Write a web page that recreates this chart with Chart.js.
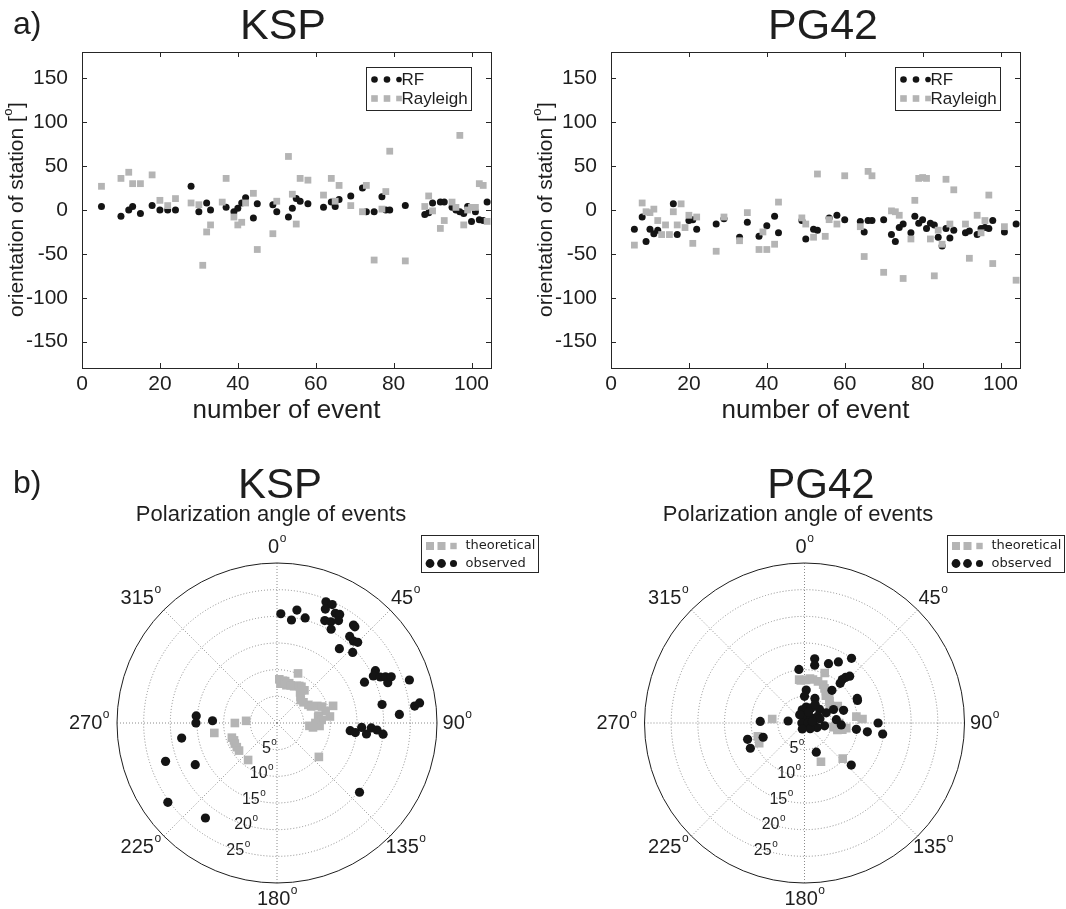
<!DOCTYPE html>
<html>
<head>
<meta charset="utf-8">
<script src="https://cdn.jsdelivr.net/npm/chart.js@4.4.1/dist/chart.umd.min.js"></script>
<style>
  body { margin: 0; background: #fff; }
  #wrap { position: relative; width: 1066px; height: 909px; overflow: hidden; }
  #wrap canvas { position: absolute; }
</style>
</head>
<body>
<div id="wrap">
  <canvas id="kspEvents" width="533" height="440" style="left:0;top:0"></canvas>
  <canvas id="pgEvents" width="533" height="440" style="left:533px;top:0"></canvas>
  <canvas id="kspPolar" width="545" height="469" style="left:0;top:440px"></canvas>
  <canvas id="pgPolar" width="533" height="469" style="left:533px;top:440px"></canvas>
</div>
<script>
const FONT = "'Liberation Sans', Arial, sans-serif";
const LEGEND_FONT = "'DejaVu Sans', sans-serif";
const BLACK = "#141414";
const GREY = "#b4b4b4";
const TEXT = "#1e1e1e";

// a) station orientation per event
const kspRfEvent = [5,10,12,13,15,18,20,22,24,28,30,32,33,37,39,40,41,42,44,45,49,50,53,54,55,56,58,62,64,65,66,69,72,73,75,77,78,79,83,88,89,90,92,93,95,96,97,98,99,100,101,102,103,104];
const kspRf = [4,-7,0,4,-4,5,0,0,0,27,-2,8,0,3,-2,2,8,14,-9,7,6,-2,-8,2,13,10,7,3,9,4,12,16,25,-2,-2,15,0,0,5,-5,-3,8,9,9,3,0,-2,-4,4,-13,-2,-11,-12,9];
const kspRayEvent = [5,10,12,13,15,18,20,22,24,28,30,31,32,33,36,37,39,40,41,42,44,45,49,50,53,54,55,56,58,62,64,65,66,69,72,73,75,77,78,79,83,88,89,90,92,93,95,96,97,98,99,100,101,102,103,104];
const kspRayleigh = [27,36,43,30,30,40,11,5,13,8,6,-63,-25,-17,9,36,-8,-17,-14,8,19,-45,-27,10,61,18,-16,36,34,17,36,10,28,5,-2,28,-57,1,21,67,-58,4,16,-1,-21,-12,9,3,85,-17,0,3,3,30,28,-13];

const pgRfEvent = [6,8,9,10,11,12,16,17,20,21,22,27,29,33,35,38,40,42,43,49,50,52,53,56,58,60,64,65,66,67,70,72,73,74,75,77,78,79,80,81,82,83,84,85,86,87,88,91,92,94,95,96,97,98,101,104];
const pgRf = [-22,-8,-36,-22,-27,-23,7,-28,-12,-11,-22,-16,-10,-31,-14,-30,-18,-7,-26,-12,-33,-22,-23,-9,-6,-11,-13,-25,-12,-12,-11,-28,-36,-20,-16,-26,-7,-15,-11,-21,-15,-17,-31,-41,-21,-32,-23,-26,-24,-28,-21,-20,-21,-12,-25,-16];
const pgRayEvent = [6,8,9,10,11,12,13,14,15,16,17,18,19,20,21,22,27,29,33,35,38,39,40,42,43,49,50,52,53,55,56,58,60,64,65,66,67,70,72,73,74,75,77,78,79,80,81,82,83,84,85,86,87,88,91,92,94,95,96,97,98,101,104];
const pgRayleigh = [-40,8,-2,-3,1,-12,-28,-17,-28,-2,-17,7,-20,-6,-38,-8,-47,-8,-35,-3,-45,-25,-45,-39,9,-9,-16,-31,41,-30,-11,-16,39,-19,-53,44,39,-71,-1,-2,-6,-78,-33,11,36,37,36,-33,-75,-23,-39,35,-16,23,-16,-55,-6,-26,-12,17,-61,-19,-80];

const xTicks = [0, 20, 40, 60, 80, 100];
const yTicks = [-150, -100, -50, 0, 50, 100, 150];

// b) polarization: azimuth (deg, clockwise from north) and radius (deg)
const kspTheoAz = [3,5,8,11,14,17,20,23,25,28,31,34,37,40,42,46,52,60,64,67,70,73,76,80,82,83,86,90,94,95,97,129,270,274,261,252,248,244,239,234,218];
const kspTheoInc = [8.2,7.4,8.0,8.0,7.3,7.8,7.5,10.1,7.6,7.9,8.1,8.2,7.2,8.0,6.6,6.2,6.3,6.8,7.1,8.2,9.0,11.0,9.4,7.9,7.8,10.0,8.4,7.2,8.0,6.1,6.8,10.1,7.9,5.8,11.9,8.9,8.7,8.8,8.8,8.8,8.8];
const kspObsAz = [2,10,8,15,22,25,23,28,30,25,28,31,30,38,39,40,43,45,40,47,65,62,64,66,67,70,68,72,80,86,83,82,96,97,93,97,93,94,96,130,275,270,272,261,251,243,234,217];
const kspObsInc = [20.5,21.5,19.5,20.4,24.5,24.5,23.2,23.3,23.5,21.2,21.5,22.4,20.3,23.3,23.2,21.2,21.0,21.4,18.2,19.4,18.1,20.9,20.1,21.2,22.1,22.1,23.1,26.1,20.0,23.0,26.0,27.0,13.8,14.8,15.9,16.9,17.7,18.8,20.0,20.2,15.2,15.2,12.1,18.1,22.1,17.2,25.3,22.3];

const pgTheoAz = [22,353,355,2,7,11,18,26,30,34,38,43,49,55,63,83,86,90,96,97,98,100,102,277,254,246,157,133];
const pgTheoInc = [10.1,8.2,8.0,8.1,8.4,8.3,8.2,8.0,7.5,7.2,6.5,6.8,6.2,5.8,7.0,9.8,10.9,6.5,5.9,7.9,5.5,7.2,6.3,6.1,9.1,9.3,7.9,9.8];
const pgObsAz = [9,10,22,29,36,354,41,42,44,42,40,3,0,23,65,67,6,24,0,48,65,65,72,0,53,63,270,90,100,98,84,93,97,98,90,98,277,272,254,251,245,158,132,350,20,30,75,110,135,200,330,80];
const pgObsInc = [12.2,11.0,12.0,13.1,15.0,10.1,10.8,11.5,12.2,10.0,8.0,6.2,5.0,5.0,10.9,10.8,3.0,3.1,1.9,3.8,4.5,6.0,7.7,1.0,1.6,2.8,0.5,0.6,1.8,3.8,6.0,6.9,9.8,11.9,13.8,14.8,3.1,8.3,11.1,8.2,11.2,5.9,11.8,2.5,2.2,4.0,3.0,2.5,1.5,1.2,1.8,1.5];

const ringTicks = [5, 10, 15, 20, 25];
const ringMax = 30;
const spokeAngles = [0, 45, 90, 135, 180, 225, 270, 315];

const toPoints = (xs, ys) => xs.map((x, i) => ({ x: x, y: ys[i] }));
const toPolar = (az, inc) => az.map((a, i) => {
  const t = a * Math.PI / 180;
  return { x: inc[i] * Math.sin(t), y: inc[i] * Math.cos(t) };
});

// text with a raised small "o" (degree mark), centred on x
function degText(ctx, base, tail, x, y, size) {
  const sup = Math.round(size * 0.62);
  ctx.font = size + "px " + FONT;
  const wb = ctx.measureText(base).width;
  const wt = tail ? ctx.measureText(tail).width : 0;
  ctx.font = sup + "px " + FONT;
  const ws = ctx.measureText("o").width;
  const left = x - (wb + ws + wt) / 2;
  ctx.textAlign = "left";
  ctx.textBaseline = "middle";
  ctx.font = size + "px " + FONT;
  ctx.fillText(base, left, y);
  ctx.font = sup + "px " + FONT;
  ctx.fillText("o", left + wb + 0.5, y - size * 0.42);
  if (tail) {
    ctx.font = size + "px " + FONT;
    ctx.fillText(tail, left + wb + ws + 1, y);
  }
}

function marker(ctx, style, x, y, s) {
  if (style === "rect") {
    ctx.fillStyle = GREY;
    ctx.fillRect(x - s, y - s, 2 * s, 2 * s);
  } else {
    ctx.fillStyle = BLACK;
    ctx.beginPath();
    ctx.arc(x, y, s, 0, 2 * Math.PI);
    ctx.fill();
  }
}

const eventFrame = {
  id: "eventFrame",
  afterDraw(chart, args, o) {
    const { ctx, chartArea: a, scales: { x, y } } = chart;
    ctx.save();
    ctx.strokeStyle = "#262626";
    ctx.lineWidth = 1;
    ctx.strokeRect(Math.round(a.left) + 0.5, Math.round(a.top) + 0.5, Math.round(a.width), Math.round(a.height));

    // inward ticks on all four sides
    ctx.beginPath();
    xTicks.forEach(v => {
      const px = Math.round(x.getPixelForValue(v)) + 0.5;
      ctx.moveTo(px, a.bottom); ctx.lineTo(px, a.bottom - 5);
      ctx.moveTo(px, a.top); ctx.lineTo(px, a.top + 5);
    });
    yTicks.forEach(v => {
      const py = Math.round(y.getPixelForValue(v)) + 0.5;
      ctx.moveTo(a.left, py); ctx.lineTo(a.left + 5, py);
      ctx.moveTo(a.right, py); ctx.lineTo(a.right - 5, py);
    });
    ctx.stroke();

    ctx.fillStyle = TEXT;
    ctx.textAlign = "center";
    ctx.textBaseline = "middle";
    ctx.font = "43px " + FONT;
    ctx.fillText(o.title, o.titleX, 27);
    if (o.panel) {
      ctx.textAlign = "left";
      ctx.font = "32px " + FONT;
      ctx.fillText(o.panel, 13, 25);
    }
    ctx.textAlign = "center";
    ctx.font = "26px " + FONT;
    ctx.fillText("number of event", (a.left + a.right) / 2, 411);

    ctx.save();
    ctx.translate(a.left - 65, (a.top + a.bottom) / 2);
    ctx.rotate(-Math.PI / 2);
    ctx.fillStyle = TEXT;
    degText(ctx, "orientation of station [", "]", 0, 0, 21);
    ctx.restore();

    // legend box
    const bw = 105, bh = 43;
    const bx = Math.round(a.right - 20 - bw) + 0.5, by = 67.5;
    ctx.fillStyle = "#fff";
    ctx.fillRect(bx, by, bw, bh);
    ctx.strokeStyle = "#262626";
    ctx.strokeRect(bx, by, bw, bh);
    const rows = [["circle", "RF", 3.3], ["rect", "Rayleigh", 3.3]];
    rows.forEach((r, i) => {
      const ry = by + 12 + i * 19;
      [8, 20.5, 32.5].forEach((dx, k) => marker(ctx, r[0], bx + dx, ry, k === 2 ? r[2] * 0.85 : r[2]));
      ctx.fillStyle = TEXT;
      ctx.textAlign = "left";
      ctx.font = "17px " + FONT;
      ctx.fillText(r[1], bx + 35, ry + 1);
    });
    ctx.restore();
  }
};

function eventChart(id, rfX, rfY, rayX, rayY, axisWidth, padRight, frame) {
  new Chart(document.getElementById(id), {
    type: "scatter",
    data: {
      datasets: [
        { label: "RF", data: toPoints(rfX, rfY), pointStyle: "circle", pointRadius: 3.5,
          backgroundColor: BLACK, borderWidth: 0, order: 1 },
        { label: "Rayleigh", data: toPoints(rayX, rayY), pointStyle: "rect", pointRadius: 4.8,
          backgroundColor: GREY, borderWidth: 0, order: 0 }
      ]
    },
    options: {
      responsive: false,
      animation: false,
      devicePixelRatio: 1,
      layout: { padding: { left: 0, top: 52, right: padRight, bottom: 0 } },
      plugins: { legend: { display: false }, tooltip: { enabled: false }, eventFrame: frame },
      scales: {
        x: {
          type: "linear", min: 0, max: 105,
          grid: { display: false }, border: { display: false },
          afterBuildTicks: s => { s.ticks = xTicks.map(v => ({ value: v })); },
          afterFit: s => { s.height = 72; },
          ticks: { font: { family: FONT, size: 21 }, color: TEXT, padding: -4, maxRotation: 0 }
        },
        y: {
          type: "linear", min: -180, max: 180,
          grid: { display: false }, border: { display: false },
          afterBuildTicks: s => { s.ticks = yTicks.map(v => ({ value: v })); },
          afterFit: s => { s.width = axisWidth; },
          ticks: { font: { family: FONT, size: 21 }, color: TEXT, padding: 6 }
        }
      }
    },
    plugins: [eventFrame]
  });
}

const polarGrid = {
  id: "polarGrid",
  beforeDatasetsDraw(chart) {
    const { ctx, scales: { x, y } } = chart;
    const cx = x.getPixelForValue(0), cy = y.getPixelForValue(0);
    const unit = x.getPixelForValue(1) - cx;
    ctx.save();
    ctx.strokeStyle = "#8a8a8a";
    ctx.lineWidth = 1;
    ctx.setLineDash([1, 2]);
    ringTicks.forEach(r => {
      ctx.beginPath();
      ctx.arc(cx, cy, r * unit, 0, 2 * Math.PI);
      ctx.stroke();
    });
    spokeAngles.forEach(d => {
      const t = d * Math.PI / 180;
      ctx.beginPath();
      ctx.moveTo(cx, cy);
      ctx.lineTo(cx + ringMax * unit * Math.sin(t), cy - ringMax * unit * Math.cos(t));
      ctx.stroke();
    });
    ctx.setLineDash([]);
    ctx.strokeStyle = "#1e1e1e";
    ctx.beginPath();
    ctx.arc(cx, cy, ringMax * unit, 0, 2 * Math.PI);
    ctx.stroke();
    ctx.restore();
  },
  afterDraw(chart, args, o) {
    const { ctx, scales: { x, y } } = chart;
    const cx = x.getPixelForValue(0), cy = y.getPixelForValue(0);
    const unit = x.getPixelForValue(1) - cx;
    const R = ringMax * unit;
    ctx.save();
    ctx.fillStyle = TEXT;

    spokeAngles.forEach(d => {
      const t = d * Math.PI / 180;
      const s = Math.sin(t);
      const shift = s < -0.1 ? -12 : (s > 0.1 ? 4 : 0);
      degText(ctx, String(d), "", cx + 1.1 * R * s + shift, cy - 1.1 * R * Math.cos(t), 20);
    });
    const lt = 197 * Math.PI / 180;
    ringTicks.forEach(r => {
      degText(ctx, String(r), "", cx + r * unit * Math.sin(lt), cy - r * unit * Math.cos(lt), 16);
    });

    ctx.textAlign = "center";
    ctx.textBaseline = "middle";
    ctx.font = "42px " + FONT;
    ctx.fillText(o.title, o.titleX, 46);
    ctx.font = "22px " + FONT;
    ctx.fillText("Polarization angle of events", o.subX, 75);
    if (o.panel) {
      ctx.textAlign = "left";
      ctx.font = "32px " + FONT;
      ctx.fillText(o.panel, 13, 44);
    }

    // legend box
    const bx = o.legendX + 0.5, by = 95.5, bw = 117, bh = 37;
    ctx.fillStyle = "#fff";
    ctx.fillRect(bx, by, bw, bh);
    ctx.strokeStyle = "#262626";
    ctx.lineWidth = 1;
    ctx.strokeRect(bx, by, bw, bh);
    const rows = [["rect", "theoretical", 4], ["circle", "observed", 4.4]];
    rows.forEach((r, i) => {
      const ry = by + 10.5 + i * 17.5;
      [8.5, 20, 32].forEach((dx, k) => marker(ctx, r[0], bx + dx, ry, k === 2 ? r[2] * 0.8 : r[2]));
      ctx.fillStyle = TEXT;
      ctx.textAlign = "left";
      ctx.textBaseline = "middle";
      ctx.font = "13px " + LEGEND_FONT;
      ctx.fillText(r[1], bx + 44, ry);
    });
    ctx.restore();
  }
};

function polarChart(id, theoAz, theoInc, obsAz, obsInc, centerX, width, opts) {
  const half = 160, centerY = 283;
  new Chart(document.getElementById(id), {
    type: "scatter",
    data: {
      datasets: [
        { label: "theoretical", data: toPolar(theoAz, theoInc), pointStyle: "rect", pointRadius: 6.1,
          backgroundColor: GREY, borderWidth: 0, order: 1 },
        { label: "observed", data: toPolar(obsAz, obsInc), pointStyle: "circle", pointRadius: 4.6,
          backgroundColor: BLACK, borderWidth: 0, order: 0 }
      ]
    },
    options: {
      responsive: false,
      animation: false,
      devicePixelRatio: 1,
      layout: { padding: { left: centerX - half, right: width - centerX - half, top: centerY - half, bottom: 469 - centerY - half } },
      plugins: { legend: { display: false }, tooltip: { enabled: false }, polarGrid: opts },
      scales: {
        x: { type: "linear", min: -ringMax, max: ringMax, display: false },
        y: { type: "linear", min: -ringMax, max: ringMax, display: false }
      }
    },
    plugins: [polarGrid]
  });
}

eventChart("kspEvents", kspRfEvent, kspRf, kspRayEvent, kspRayleigh, 82, 42,
  { title: "KSP", titleX: 283, panel: "a)" });
eventChart("pgEvents", pgRfEvent, pgRf, pgRayEvent, pgRayleigh, 78, 46,
  { title: "PG42", titleX: 290, panel: null });
polarChart("kspPolar", kspTheoAz, kspTheoInc, kspObsAz, kspObsInc, 277, 545,
  { title: "KSP", titleX: 280, subX: 271, legendX: 421, panel: "b)" });
polarChart("pgPolar", pgTheoAz, pgTheoInc, pgObsAz, pgObsInc, 271.5, 533,
  { title: "PG42", titleX: 288, subX: 265, legendX: 414, panel: null });
</script>
</body>
</html>
